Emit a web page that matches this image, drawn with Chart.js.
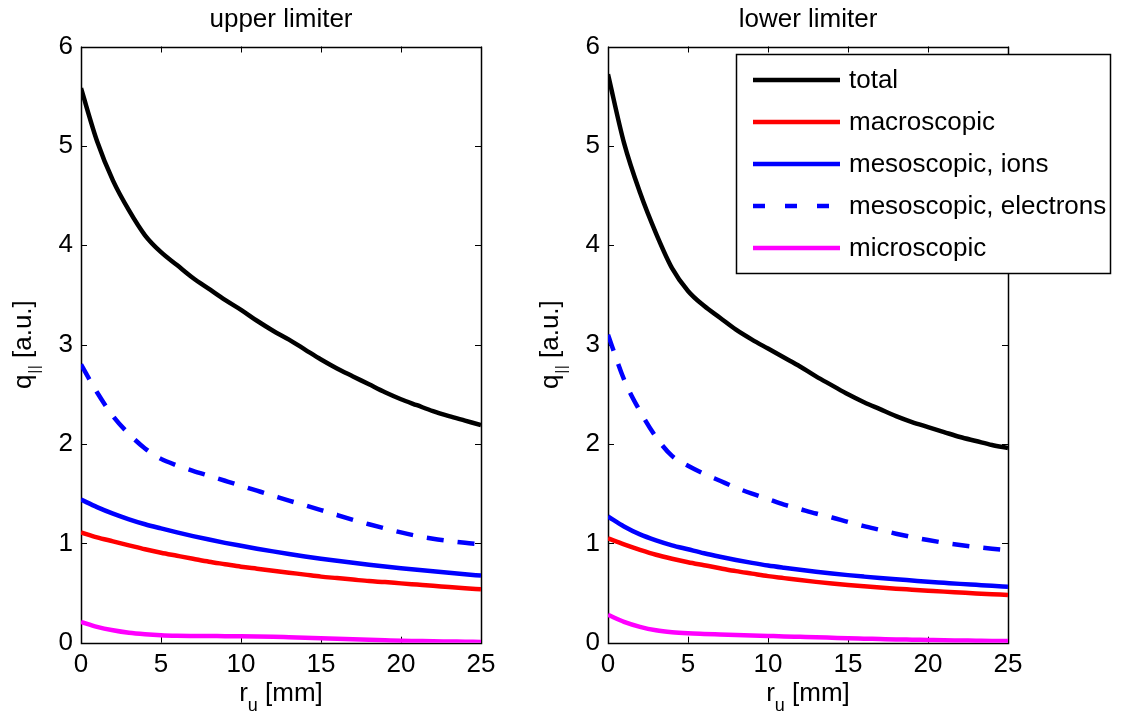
<!DOCTYPE html>
<html>
<head>
<meta charset="utf-8">
<title>Parallel heat flux profiles</title>
<script src="https://cdn.jsdelivr.net/npm/chart.js@4/dist/chart.umd.min.js"></script>
<style>
  html, body { margin: 0; padding: 0; background: #ffffff; }
  #wrap { position: relative; width: 1122px; height: 717px; overflow: hidden; background: #ffffff; }
  canvas { position: absolute; top: 0; }
  #upper { left: 0px; }
  #lower { left: 527px; }
</style>
</head>
<body>
<div id="wrap">
  <canvas id="upper" width="561" height="717"></canvas>
  <canvas id="lower" width="595" height="717"></canvas>
</div>
<script>
// Upstream radial coordinate r_u [mm]
const radius = [0,1,2,3,4,5,6,7,8,9,10,11,12,13,14,15,16,17,18,19,20,21,22,23,24,25];

// Tick labels
const xTicks = [0, 5, 10, 15, 20, 25];
const yTicks = [0, 1, 2, 3, 4, 5, 6];

// Series names
const seriesNames = ['total', 'macroscopic', 'mesoscopic, ions', 'mesoscopic, electrons', 'microscopic'];

// Upper limiter, q_parallel [a.u.]
const upperTotal     = [5.58,5.05,4.65,4.35,4.10,3.93,3.80,3.67,3.56,3.45,3.35,3.24,3.14,3.05,2.95,2.85,2.76,2.68,2.60,2.52,2.45,2.39,2.33,2.28,2.235,2.19];
const upperMacro     = [1.11,1.06,1.02,0.98,0.94,0.905,0.875,0.845,0.815,0.79,0.765,0.745,0.725,0.705,0.685,0.665,0.65,0.635,0.62,0.61,0.597,0.585,0.573,0.56,0.548,0.537];
const upperIons      = [1.44,1.365,1.299,1.242,1.192,1.15,1.11,1.073,1.038,1.005,0.975,0.946,0.919,0.893,0.868,0.845,0.824,0.804,0.785,0.767,0.75,0.734,0.719,0.704,0.689,0.675];
const upperElectrons = [2.80,2.52,2.28,2.10,1.955,1.85,1.785,1.73,1.68,1.63,1.58,1.53,1.48,1.43,1.383,1.335,1.285,1.237,1.192,1.15,1.11,1.075,1.047,1.025,1.005,0.99];
const upperMicro     = [0.21,0.16,0.125,0.10,0.085,0.075,0.07,0.068,0.067,0.066,0.065,0.063,0.06,0.055,0.05,0.045,0.04,0.035,0.03,0.025,0.02,0.017,0.014,0.012,0.01,0.008];

// Lower limiter, q_parallel [a.u.]
const lowerTotal     = [5.72,5.03,4.53,4.12,3.77,3.54,3.39,3.27,3.15,3.05,2.96,2.87,2.78,2.68,2.59,2.50,2.42,2.35,2.28,2.22,2.17,2.12,2.07,2.03,1.99,1.96];
const lowerMacro     = [1.05,0.99,0.935,0.885,0.845,0.81,0.78,0.75,0.72,0.695,0.67,0.65,0.63,0.612,0.595,0.58,0.567,0.555,0.544,0.534,0.524,0.514,0.505,0.496,0.488,0.48];
const lowerIons      = [1.27,1.17,1.09,1.03,0.98,0.94,0.90,0.865,0.833,0.803,0.776,0.754,0.734,0.715,0.697,0.68,0.665,0.651,0.638,0.626,0.614,0.603,0.592,0.582,0.572,0.563];
const lowerElectrons = [3.10,2.65,2.33,2.07,1.88,1.78,1.70,1.63,1.56,1.50,1.445,1.39,1.345,1.30,1.26,1.215,1.173,1.135,1.097,1.063,1.033,1.006,0.983,0.963,0.945,0.93];
const lowerMicro     = [0.28,0.21,0.16,0.125,0.105,0.094,0.088,0.083,0.078,0.073,0.068,0.063,0.059,0.055,0.05,0.045,0.041,0.037,0.033,0.03,0.027,0.024,0.022,0.02,0.018,0.017];

const FONT = '"Liberation Sans", Arial, Helvetica, sans-serif';
const COLORS = ['#000000', '#ff0000', '#0000ff', '#0000ff', '#ff00ff'];
const DASHES = [[], [], [], [17, 14], []];

function toPoints(values) {
  return radius.map((r, i) => ({ x: r, y: values[i] }));
}

function makeDatasets(seriesList) {
  return seriesList.map((values, i) => ({
    label: seriesNames[i],
    data: toPoints(values),
    borderColor: COLORS[i],
    backgroundColor: COLORS[i],
    borderWidth: 4.5,
    borderDash: DASHES[i],
    borderCapStyle: 'butt',
    pointRadius: 0,
    tension: 0.4,
    cubicInterpolationMode: 'monotone',
    fill: false
  }));
}

// Box around the axes with inward ticks on all four sides
const frameTicks = {
  id: 'frameTicks',
  beforeDatasetsDraw(chart) {
    const { ctx, chartArea: a, scales: { x, y } } = chart;
    const len = 6;
    ctx.save();
    ctx.strokeStyle = '#000000';
    ctx.lineWidth = 1;
    ctx.beginPath();
    xTicks.forEach(v => {
      const px = Math.round(x.getPixelForValue(v)) + 0.5;
      ctx.moveTo(px, a.bottom); ctx.lineTo(px, a.bottom - len);
      ctx.moveTo(px, a.top); ctx.lineTo(px, a.top + len);
    });
    yTicks.forEach(v => {
      const py = Math.round(y.getPixelForValue(v)) + 0.5;
      ctx.moveTo(a.left, py); ctx.lineTo(a.left + len, py);
      ctx.moveTo(a.right, py); ctx.lineTo(a.right - len, py);
    });
    ctx.stroke();
    ctx.lineWidth = 1.5;
    ctx.strokeRect(Math.round(a.left) + 0.5, Math.round(a.top) + 0.5,
                   Math.round(a.right - a.left), Math.round(a.bottom - a.top));
    ctx.restore();
  }
};

// Axis titles with subscripts: r_u [mm] and q_|| [a.u.]
const axisTitles = {
  id: 'axisTitles',
  afterDraw(chart) {
    const { ctx, chartArea: a } = chart;
    const main = '26px ' + FONT;
    const sub = '18px ' + FONT;
    ctx.save();
    ctx.fillStyle = '#000000';
    ctx.textBaseline = 'alphabetic';
    ctx.textAlign = 'left';

    // x title
    ctx.font = main; const wr = ctx.measureText('r').width;
    const wRest = ctx.measureText(' [mm]').width;
    ctx.font = sub; const wu = ctx.measureText('u').width;
    const xs = (a.left + a.right) / 2 - (wr + wu + wRest) / 2;
    const base = 701;
    ctx.font = main; ctx.fillText('r', xs, base);
    ctx.font = sub; ctx.fillText('u', xs + wr, base + 10);
    ctx.font = main; ctx.fillText(' [mm]', xs + wr + wu, base);

    // y title, rotated
    const cy = (a.top + a.bottom) / 2;
    ctx.translate(a.left - 50, cy);
    ctx.rotate(-Math.PI / 2);
    ctx.font = main; const wq = ctx.measureText('q').width;
    const wAu = ctx.measureText(' [a.u.]').width;
    ctx.font = '14px ' + FONT;
    const wBar = ctx.measureText('|').width;
    const wBars = wBar * 2 + 2;
    const ys = -(wq + wBars + wAu) / 2;
    ctx.font = main; ctx.fillText('q', ys, 0);
    ctx.font = '14px ' + FONT;
    ctx.fillText('|', ys + wq + 1, 8);
    ctx.fillText('|', ys + wq + 2 + wBar, 8);
    ctx.font = main; ctx.fillText(' [a.u.]', ys + wq + wBars, 0);
    ctx.restore();
  }
};

// Legend box, drawn from the chart's datasets; it extends past the right axis
const boxLegend = {
  id: 'boxLegend',
  afterDraw(chart, args, opts) {
    if (!opts || !opts.show) return;
    const { ctx } = chart;
    const left = opts.left, top = opts.top, w = opts.width, h = opts.height;
    ctx.save();
    ctx.fillStyle = '#ffffff';
    ctx.fillRect(left, top, w, h);
    ctx.strokeStyle = '#000000';
    ctx.lineWidth = 1.5;
    ctx.strokeRect(left + 0.5, top + 0.5, w, h);
    ctx.font = '26px ' + FONT;
    ctx.textBaseline = 'middle';
    ctx.textAlign = 'left';
    chart.data.datasets.forEach((ds, i) => {
      const yc = top + opts.firstRow + i * opts.rowStep;
      ctx.strokeStyle = ds.borderColor;
      ctx.lineWidth = ds.borderWidth;
      ctx.setLineDash(ds.borderDash && ds.borderDash.length ? [12, 20] : []);
      ctx.beginPath();
      ctx.moveTo(left + opts.lineStart, yc);
      ctx.lineTo(left + opts.lineEnd, yc);
      ctx.stroke();
      ctx.setLineDash([]);
      ctx.fillStyle = '#000000';
      ctx.fillText(ds.label, left + opts.textStart, yc + 1);
    });
    ctx.restore();
  }
};

function fixedWidth(w) { return scale => { scale.width = w; }; }
function fixedHeight(h) { return scale => { scale.height = h; }; }

function makeChart(id, title, seriesList, rightPad, legendOpts) {
  return new Chart(document.getElementById(id), {
    type: 'line',
    data: { datasets: makeDatasets(seriesList) },
    options: {
      responsive: false,
      animation: false,
      events: [],
      layout: { padding: { left: 0, right: rightPad, top: 0, bottom: 0 } },
      plugins: {
        legend: { display: false },
        tooltip: { enabled: false },
        title: {
          display: true,
          text: title,
          fullSize: false,
          color: '#000000',
          font: { family: FONT, size: 26, weight: 'normal', lineHeight: 1.2 },
          padding: { top: 4, bottom: 11.3 }
        },
        boxLegend: legendOpts
      },
      scales: {
        x: {
          type: 'linear',
          min: 0, max: 25,
          afterFit: fixedHeight(74.3),
          afterBuildTicks: s => { s.ticks = xTicks.map(v => ({ value: v })); },
          grid: { display: false, drawTicks: false },
          border: { display: false },
          ticks: { color: '#000000', padding: 7, maxRotation: 0, font: { family: FONT, size: 26 } }
        },
        y: {
          type: 'linear',
          min: 0, max: 6,
          afterFit: fixedWidth(81),
          afterBuildTicks: s => { s.ticks = yTicks.map(v => ({ value: v })); },
          grid: { display: false, drawTicks: false },
          border: { display: false },
          ticks: { color: '#000000', padding: 8, font: { family: FONT, size: 26 } }
        }
      }
    },
    plugins: [frameTicks, axisTitles, boxLegend]
  });
}

makeChart('upper', 'upper limiter',
  [upperTotal, upperMacro, upperIons, upperElectrons, upperMicro], 80, { show: false });

makeChart('lower', 'lower limiter',
  [lowerTotal, lowerMacro, lowerIons, lowerElectrons, lowerMicro], 114,
  { show: true, left: 209, top: 54, width: 374, height: 219,
    firstRow: 26, rowStep: 42, lineStart: 17, lineEnd: 104, textStart: 113 });
</script>
</body>
</html>
